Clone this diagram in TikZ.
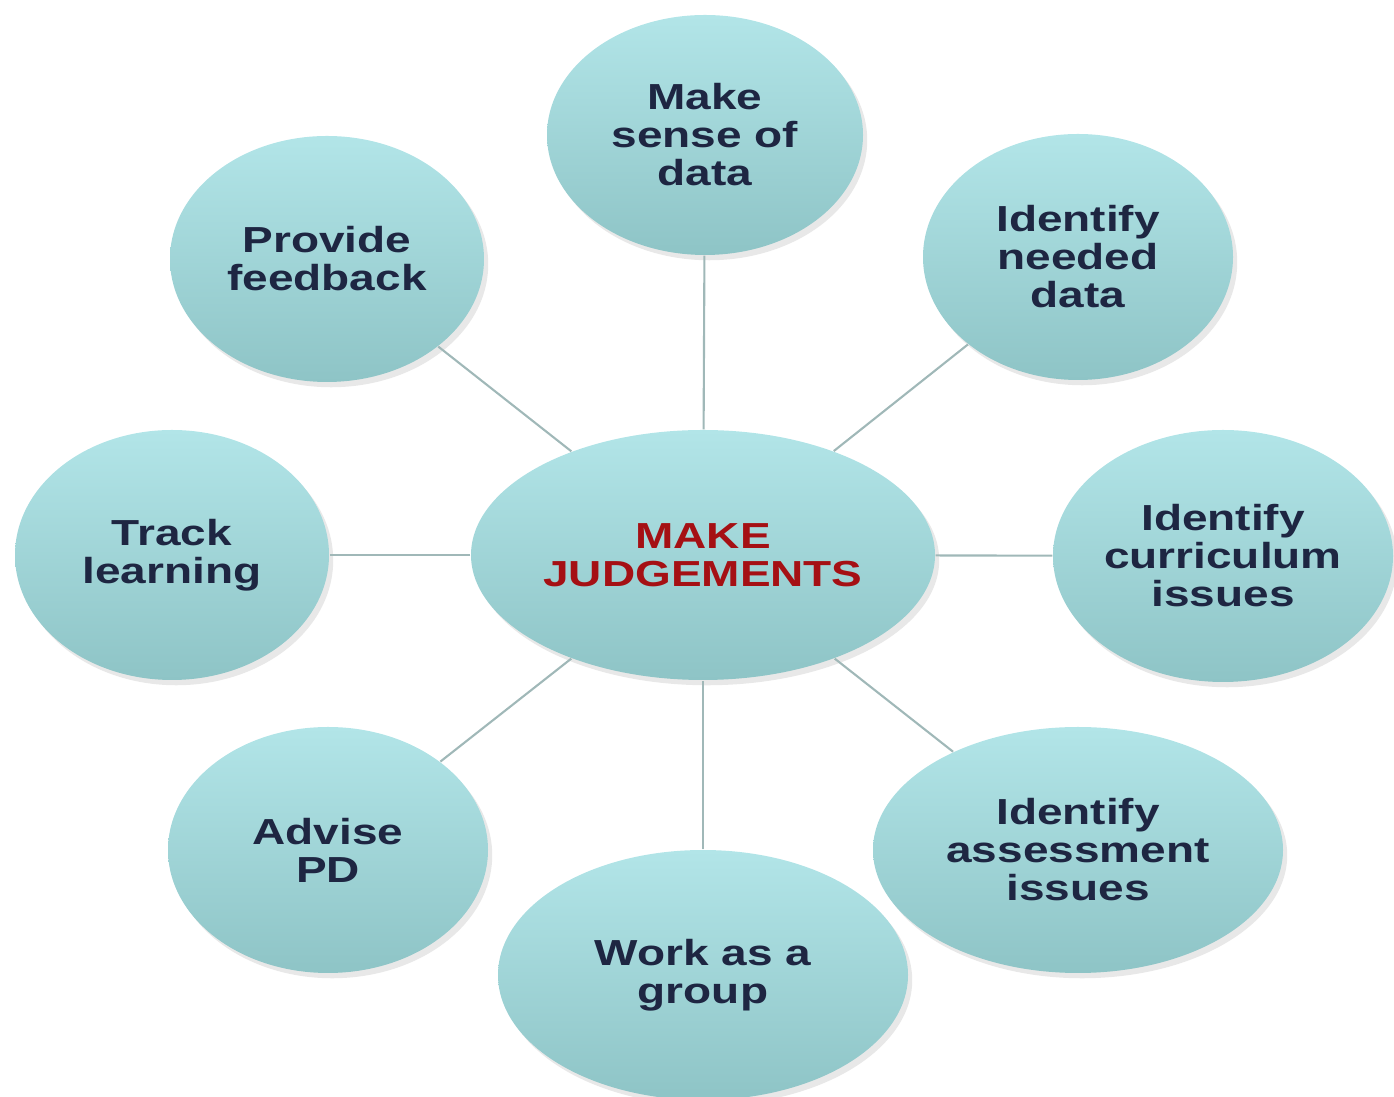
\documentclass[tikz,border=0pt]{standalone}
\usepackage{fontspec}
\usepackage{tikz}
\usepackage{xcolor}
\usetikzlibrary{shapes.geometric,shadows}
\newfontfamily\bubblefont{Liberation Sans}[FakeStretch=1.27]
\definecolor{bubbletop}{RGB}{178,229,232}
\definecolor{bubblebot}{RGB}{142,196,198}
\definecolor{inknavy}{RGB}{30,38,66}
\definecolor{inkred}{RGB}{165,16,20}
\definecolor{spoke}{RGB}{160,184,184}

\begin{document}
\begin{tikzpicture}[
  bubble/.style={ellipse,inner sep=0pt,top color=bubbletop,bottom color=bubblebot,
    drop shadow={shadow xshift=1.2pt,shadow yshift=-1.5pt,opacity=0.18,fill=gray},
    text=inknavy,align=center,font=\bubblefont\bfseries\fontsize{10.3}{10.8}\selectfont},
  spokeline/.style={spoke,line width=0.6pt}]
\useasboundingbox (0,0) rectangle (13.94,10.97);
% hub and the eight satellites
\node[bubble,minimum width=4.64cm,minimum height=2.5cm,text=inkred] (judge) at (7.03,5.42) {MAKE\\JUDGEMENTS};
\node[bubble,minimum width=3.16cm,minimum height=2.4cm] (sense) at (7.05,9.62) {Make\\sense of\\data};
\node[bubble,minimum width=3.1cm,minimum height=2.46cm] (needed) at (10.78,8.40) {Identify\\needed\\data};
\node[bubble,minimum width=3.4cm,minimum height=2.52cm] (curric) at (12.23,5.41) {Identify\\curriculum\\issues};
\node[bubble,minimum width=4.1cm,minimum height=2.46cm] (assess) at (10.78,2.47) {Identify\\assessment\\issues};
\node[bubble,minimum width=4.1cm,minimum height=2.5cm] (group) at (7.03,1.22) {Work as a\\group};
\node[bubble,minimum width=3.2cm,minimum height=2.46cm] (advise) at (3.28,2.47) {Advise\\PD};
\node[bubble,minimum width=3.14cm,minimum height=2.5cm] (track) at (1.72,5.42) {Track\\learning};
\node[bubble,minimum width=3.14cm,minimum height=2.46cm] (feedback) at (3.27,8.38) {Provide\\feedback};
% spokes
\foreach \s in {sense,needed,curric,assess,group,advise,track,feedback}
  \draw[spokeline] (judge) -- (\s);

\end{tikzpicture}
\end{document}
